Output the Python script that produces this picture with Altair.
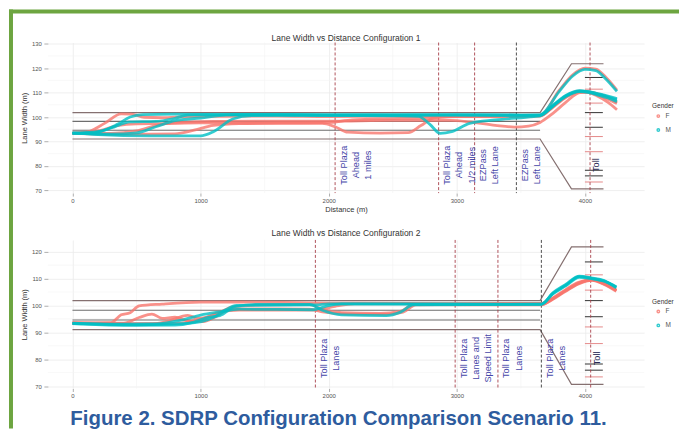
import altair as alt
import pandas as pd

FONT = "Liberation Sans, Arial, Helvetica, sans-serif"
RED = "#F8766D"
TEAL = "#00BFC4"
LABEL_BLUE = "#4646A8"
SIGN_RED = "#A8404A"
SIGN_DARK = "#3A3A3A"
GREEN = "#6DA540"
CAPTION_BLUE = "#2E5C9E"

# ---------------- axes ----------------
X_TICKS = [0, 1000, 2000, 3000, 4000]
X_MINOR = [500, 1500, 2500, 3500]
Y1_TICKS = [70, 80, 90, 100, 110, 120, 130]
Y1_MINOR = [75, 85, 95, 105, 115, 125]
Y2_TICKS = [70, 80, 90, 100, 110, 120]
Y2_MINOR = [75, 85, 95, 105, 115]
X_DOMAIN = [-192, 4462]
Y1_DOMAIN = [68.86, 130.5]
Y2_DOMAIN = [69.08, 124.39]

# ---------------- road geometry ----------------
LANE_TOP = [(0, 101.8), (3650, 101.8), (3895, 121.8), (4145, 121.8)]
LANE_BOTTOM = [(0, 91.0), (3650, 91.0), (3895, 70.6), (4145, 70.6)]
LANE_INNER_Y = [94.6, 98.2]
LANE_INNER_END = 3650
TOLL_TICK_X = [4000, 4140]
TOLL_TICK_DARK = [116.2, 101.8, 95.8, 78.2, 75.9]
TOLL_TICK_LIGHT = [111.4, 105.7, 92.0, 85.8, 73.4]

# ---------------- signs ----------------
LABEL_Y = 80.3
C1_SIGN_RED = [2050, 2858, 3139, 4040]
C1_SIGN_DARK = [3465]
C1_LABEL_X = [2050, 2858, 3139, 3465]
C1_LABEL_TEXT = ["Toll Plaza\nAhead\n1 miles", "Toll Plaza\nAhead\n1/2 miles",
                 "EZPass\nLeft Lane", "EZPass\nLeft Lane"]
C1_TOLL_X = 4040
C2_SIGN_RED = [1896, 2987, 3321, 4045]
C2_SIGN_DARK = [3660]
C2_LABEL_X = [1896, 2987, 3321, 3660]
C2_LABEL_TEXT = ["Toll Plaza\nLanes", "Toll Plaza\nLanes and\nSpeed Limit",
                 "Toll Plaza\nLanes", "Toll Plaza\nLanes"]
C2_TOLL_X = 4045

# ---------------- trajectories: configuration 1 ----------------
C1_F1 = [(0, 93.2), (100, 93.6), (250, 97.4), (380, 101.3), (460, 101.2), (560, 99.9), (700, 99.7),
         (900, 100.2), (1200, 100.3), (1600, 100.4), (2000, 100.2), (2500, 100.4), (3000, 100.3),
         (3500, 100.4), (3650, 100.6), (3800, 111.0), (3905, 117.3), (4000, 120.0), (4085, 119.6),
         (4165, 116.2), (4250, 111.0)]
C1_F2 = [(0, 93.4), (200, 94.3), (350, 96.5), (500, 97.2), (700, 97.3), (1000, 97.6), (1500, 97.4),
         (1950, 97.4), (2050, 96.0), (2150, 93.8), (2400, 93.4), (2620, 93.6), (2720, 96.5),
         (2820, 99.6), (2950, 100.2), (3300, 100.3), (3650, 100.5), (3750, 104.0), (3850, 108.0),
         (3960, 110.3), (4030, 110.0), (4100, 108.5), (4180, 106.0), (4250, 103.0)]
C1_F3 = [(0, 93.5), (300, 93.3), (500, 94.3), (650, 96.5), (800, 97.8), (1100, 98.2), (1500, 98.3),
         (2000, 98.3), (2500, 98.6), (2950, 98.6), (3100, 98.0), (3300, 96.6), (3450, 95.9),
         (3560, 96.3), (3650, 97.8), (3750, 101.5), (3850, 106.0), (3960, 110.0), (4030, 110.2),
         (4100, 109.0), (4180, 107.3), (4250, 105.5)]
C1_F4 = [(0, 93.3), (400, 92.9), (800, 93.1), (950, 94.6), (1100, 96.6), (1300, 97.3), (1700, 97.6),
         (2000, 97.7), (2150, 98.6), (2400, 99.2), (2700, 99.6), (3000, 100.2), (3650, 100.4),
         (3750, 104.2), (3850, 108.2), (3960, 110.6), (4030, 110.3), (4100, 109.5), (4180, 108.0),
         (4250, 106.0)]
C1_M1 = [(0, 93.4), (200, 94.0), (350, 97.0), (450, 100.0), (550, 101.0), (800, 101.2), (1200, 101.0),
         (1600, 100.9), (2000, 100.8), (2500, 100.7), (3000, 100.8), (3500, 100.7), (3650, 100.9),
         (3800, 110.5), (3905, 116.8), (4000, 119.5), (4085, 119.0), (4165, 115.5), (4250, 110.5)]
C1_M2 = [(0, 93.3), (300, 93.0), (500, 93.5), (650, 96.0), (800, 98.5), (1000, 99.6), (1200, 100.8),
         (1600, 100.9), (2000, 100.7), (2500, 100.8), (3000, 100.9), (3500, 100.8), (3650, 100.8),
         (3750, 104.8), (3850, 108.8), (3960, 110.8), (4030, 110.3), (4100, 109.4), (4180, 108.3),
         (4250, 107.0)]
C1_M3 = [(0, 93.5), (200, 92.8), (600, 92.3), (1000, 92.3), (1100, 94.0), (1250, 99.2), (1400, 100.6),
         (2000, 100.7), (2500, 100.5), (2700, 100.3), (2790, 97.0), (2870, 93.3), (2960, 94.0),
         (3100, 97.4), (3300, 98.8), (3600, 100.2), (3650, 100.5), (3750, 104.4), (3850, 108.4),
         (3960, 110.4), (4030, 110.0), (4100, 109.0), (4180, 107.8), (4250, 106.3)]
C1_M4 = [(0, 93.4), (150, 93.5), (300, 95.5), (450, 98.0), (650, 98.2), (800, 99.5), (900, 100.8),
         (1300, 101.1), (2000, 101.0), (2600, 101.0), (3200, 100.9), (3650, 100.7), (3750, 104.6),
         (3850, 108.6), (3960, 110.6), (4030, 110.4), (4100, 109.6), (4180, 108.6), (4250, 107.5)]

# ---------------- trajectories: configuration 2 ----------------
C2_F1 = [(0, 93.5), (300, 93.6), (380, 96.5), (450, 97.3), (520, 99.8), (700, 100.5), (1000, 101.2),
         (1400, 101.2), (2000, 100.9), (2600, 100.8), (3000, 100.6), (3660, 100.7), (3750, 102.6),
         (3850, 105.6), (3950, 108.3), (4057, 109.5), (4150, 108.1), (4245, 105.6)]
C2_F2 = [(0, 93.4), (400, 93.4), (520, 95.5), (620, 96.8), (700, 95.2), (800, 95.6), (900, 94.3),
         (1020, 94.0), (1120, 95.8), (1220, 98.4), (1500, 98.7), (1850, 98.6), (1950, 97.6),
         (2150, 96.8), (2450, 96.7), (2580, 97.5), (2680, 100.2), (3000, 100.4), (3660, 100.4),
         (3750, 102.3), (3850, 105.3), (3950, 108.0), (4057, 109.3), (4150, 107.8), (4245, 105.3)]
C2_F3 = [(0, 93.6), (600, 93.0), (750, 94.2), (900, 96.3), (980, 95.2), (1100, 96.2), (1250, 99.5),
         (1500, 100.2), (1850, 100.3), (1950, 98.6), (2100, 97.3), (2400, 97.0), (2560, 97.8),
         (2660, 100.3), (3660, 100.2), (3750, 102.5), (3850, 105.5), (3950, 108.2), (4057, 109.4),
         (4150, 108.0), (4245, 105.5)]
C2_F4 = [(0, 93.2), (800, 93.3), (1000, 94.8), (1150, 97.5), (1300, 98.3), (1900, 98.3), (2050, 99.7),
         (2200, 100.6), (3660, 100.8), (3750, 102.8), (3850, 105.9), (3950, 108.6), (4057, 109.6),
         (4150, 108.3), (4245, 105.8)]
C2_M1 = [(0, 93.2), (400, 92.6), (800, 92.7), (950, 93.8), (1050, 95.5), (1150, 96.2), (1270, 99.6),
         (1450, 100.4), (1850, 100.4), (1950, 98.2), (2100, 96.5), (2450, 96.2), (2560, 97.5),
         (2660, 100.2), (3660, 100.5), (3750, 104.5), (3850, 107.5), (3956, 110.7), (4050, 110.1),
         (4150, 109.1), (4245, 106.8)]
C2_M2 = [(0, 93.4), (300, 93.0), (650, 93.1), (850, 94.5), (1000, 96.4), (1150, 97.6), (1300, 98.6),
         (1880, 98.4), (1970, 99.6), (2100, 100.6), (3660, 100.5), (3750, 104.3), (3850, 107.3),
         (3956, 110.5), (4050, 110.0), (4150, 109.0), (4245, 107.0)]
C2_M3 = [(0, 93.3), (500, 92.8), (900, 93.3), (1100, 95.5), (1200, 98.5), (1280, 100.0), (1900, 100.2),
         (2000, 100.6), (3660, 100.4), (3750, 104.7), (3850, 107.8), (3956, 110.9), (4050, 110.3),
         (4150, 109.3), (4245, 106.5)]

CONFIG1_TRIPS = [("F", C1_F1), ("F", C1_F2), ("F", C1_F3), ("F", C1_F4),
                 ("M", C1_M1), ("M", C1_M2), ("M", C1_M3), ("M", C1_M4)]
CONFIG2_TRIPS = [("F", C2_F1), ("F", C2_F2), ("F", C2_F3), ("F", C2_F4),
                 ("M", C2_M1), ("M", C2_M2), ("M", C2_M3)]

TITLE1 = "Lane Width vs Distance Configuration 1"
TITLE2 = "Lane Width vs Distance Configuration 2"
CAPTION = "Figure 2. SDRP Configuration Comparison Scenario 11."

PLOT_W = 598


def path_df(pts):
    return pd.DataFrame({"i": list(range(len(pts))),
                         "d": [p[0] for p in pts], "w": [p[1] for p in pts]})


def trips_df(trips):
    rows = []
    for k, (g, pts) in enumerate(trips):
        for i, (d, w) in enumerate(pts):
            rows.append({"trip": f"{g}{k}", "gender": g, "i": i, "d": d, "w": w})
    return pd.DataFrame(rows)


def make_panel(title, title_y, y_domain, y_ticks, y_minor, height, trips,
               sign_red, sign_dark, label_x, label_text, toll_x, show_xtitle, legend_y,
               extra_layers):
    x_axis = alt.Axis(values=X_TICKS, format="d", grid=True, gridColor="#EBEBEB", gridWidth=0.8,
                      domain=False, ticks=True, tickSize=3, tickColor="#777", tickWidth=0.6,
                      labelFontSize=6, labelColor="#555", labelPadding=1.5, labelFont=FONT,
                      title="Distance (m)" if show_xtitle else "",
                      titleFontSize=7.5, titleFontWeight="normal", titleColor="#333",
                      titlePadding=1.5, titleFont=FONT)
    y_axis = alt.Axis(values=y_ticks, grid=True, gridColor="#EBEBEB", gridWidth=0.8,
                      domain=False, ticks=True, tickSize=4, tickColor="#777", tickWidth=0.6,
                      labelFontSize=6, labelColor="#555", labelPadding=2.5, labelFont=FONT,
                      title="Lane Width (m)", titleFontSize=7.5, titleFontWeight="normal",
                      titleColor="#333", titlePadding=3, titleFont=FONT)
    X = alt.X("d:Q", scale=alt.Scale(domain=X_DOMAIN, nice=False, zero=False), axis=x_axis)
    Y = alt.Y("w:Q", scale=alt.Scale(domain=y_domain, nice=False, zero=False), axis=y_axis)

    minor_x = alt.Chart(pd.DataFrame({"d": X_MINOR})).mark_rule(
        color="#F4F4F4", strokeWidth=0.6).encode(x=X)
    minor_y = alt.Chart(pd.DataFrame({"w": y_minor})).mark_rule(
        color="#F4F4F4", strokeWidth=0.6).encode(y=Y)

    top = alt.Chart(path_df(LANE_TOP)).mark_line(color="#857070", strokeWidth=1.2).encode(
        x=X, y=Y, order="i:Q")
    bottom = alt.Chart(path_df(LANE_BOTTOM)).mark_line(color="#857070", strokeWidth=1.2).encode(
        x=X, y=Y, order="i:Q")
    inner = alt.Chart(pd.DataFrame({"d": [0] * len(LANE_INNER_Y),
                                    "d2": [LANE_INNER_END] * len(LANE_INNER_Y),
                                    "w": LANE_INNER_Y})).mark_rule(
        color="#6E6E6E", strokeWidth=1.1).encode(x=X, x2="d2:Q", y=Y)

    tick_dark = alt.Chart(pd.DataFrame({"d": [TOLL_TICK_X[0]] * 5, "d2": [TOLL_TICK_X[1]] * 5,
                                        "w": TOLL_TICK_DARK})).mark_rule(
        color="#333333", strokeWidth=1).encode(x=X, x2="d2:Q", y=Y)
    tick_light = alt.Chart(pd.DataFrame({"d": [TOLL_TICK_X[0]] * 5, "d2": [TOLL_TICK_X[1]] * 5,
                                         "w": TOLL_TICK_LIGHT})).mark_rule(
        color="#E58A8A", strokeWidth=1).encode(x=X, x2="d2:Q", y=Y)

    vred = alt.Chart(pd.DataFrame({"d": sign_red})).mark_rule(
        color=SIGN_RED, strokeWidth=0.9, strokeDash=[3, 2]).encode(x=X)
    vdark = alt.Chart(pd.DataFrame({"d": sign_dark})).mark_rule(
        color=SIGN_DARK, strokeWidth=0.9, strokeDash=[3, 2]).encode(x=X)

    labels = alt.Chart(pd.DataFrame({"d": label_x, "w": [LABEL_Y] * len(label_x),
                                     "t": label_text})).mark_text(
        angle=270, align="center", baseline="top", dy=4.5, lineBreak="\n",
        fontSize=9.2, lineHeight=12.3, color=LABEL_BLUE, font=FONT).encode(x=X, y=Y, text="t:N")
    toll = alt.Chart(pd.DataFrame({"d": [toll_x], "w": [LABEL_Y], "t": ["Toll"]})).mark_text(
        angle=270, align="center", baseline="top", dy=2, fontSize=9.2,
        color="#2A2A55", font=FONT).encode(x=X, y=Y, text="t:N")

    lines = alt.Chart(trips_df(trips)).mark_line(
        strokeWidth=2.8, opacity=0.8, interpolate="monotone").encode(
        x=X, y=Y, order="i:Q", detail="trip:N",
        color=alt.Color("gender:N", scale=alt.Scale(domain=["F", "M"], range=[RED, TEAL]),
                        legend=alt.Legend(title="Gender", orient="none", legendX=606,
                                          legendY=legend_y, symbolType="circle", symbolSize=6,
                                          symbolStrokeWidth=1.4, symbolOffset=3, padding=0,
                                          labelFontSize=6.5, titleFontSize=6.5,
                                          titleFontWeight="normal", titleColor="#333",
                                          labelColor="#555", labelFont=FONT, titleFont=FONT,
                                          rowPadding=5, titlePadding=3, labelOffset=4)))

    title_mark = alt.Chart(pd.DataFrame({"t": [title]})).mark_text(
        fontSize=8.5, color="#333", font=FONT, align="center", baseline="alphabetic").encode(
        x=alt.value(PLOT_W / 2), y=alt.value(title_y), text="t:N")

    layers = [minor_x, minor_y, top, bottom, inner, tick_dark, tick_light, vred, vdark,
              labels, toll, lines, title_mark] + extra_layers
    return alt.layer(*layers).properties(width=PLOT_W, height=height)


one = pd.DataFrame({"k": [0]})
# green figure frame (top and left edges), drawn as filled rects in pixel space
frame_top = alt.Chart(one).mark_rect(color=GREEN).encode(
    x=alt.value(-39), x2=alt.value(633), y=alt.value(-33), y2=alt.value(-29))
frame_left = alt.Chart(one).mark_rect(color=GREEN).encode(
    x=alt.value(-39), x2=alt.value(-35), y=alt.value(-33), y2=alt.value(387))
caption = alt.Chart(pd.DataFrame({"t": [CAPTION]})).mark_text(
    fontSize=20.5, fontWeight="bold", color=CAPTION_BLUE, font=FONT,
    align="center", baseline="alphabetic").encode(
    x=alt.value(291.5), y=alt.value(186), text="t:N")

p1 = make_panel(TITLE1, -1.7, Y1_DOMAIN, Y1_TICKS, Y1_MINOR, 151, CONFIG1_TRIPS,
                C1_SIGN_RED, C1_SIGN_DARK, C1_LABEL_X, C1_LABEL_TEXT, C1_TOLL_X, True, 61,
                [frame_top, frame_left])
p2 = make_panel(TITLE2, -3.5, Y2_DOMAIN, Y2_TICKS, Y2_MINOR, 149, CONFIG2_TRIPS,
                C2_SIGN_RED, C2_SIGN_DARK, C2_LABEL_X, C2_LABEL_TEXT, C2_TOLL_X, False, 59,
                [caption])

chart = alt.vconcat(p1, p2, spacing=47, bounds="flush").resolve_scale(
    color="independent", x="independent", y="independent").properties(
    padding=0).configure(background="white", font=FONT).configure_view(stroke="transparent")

chart.save("out.html", embed_options={"renderer": "svg", "actions": False})
